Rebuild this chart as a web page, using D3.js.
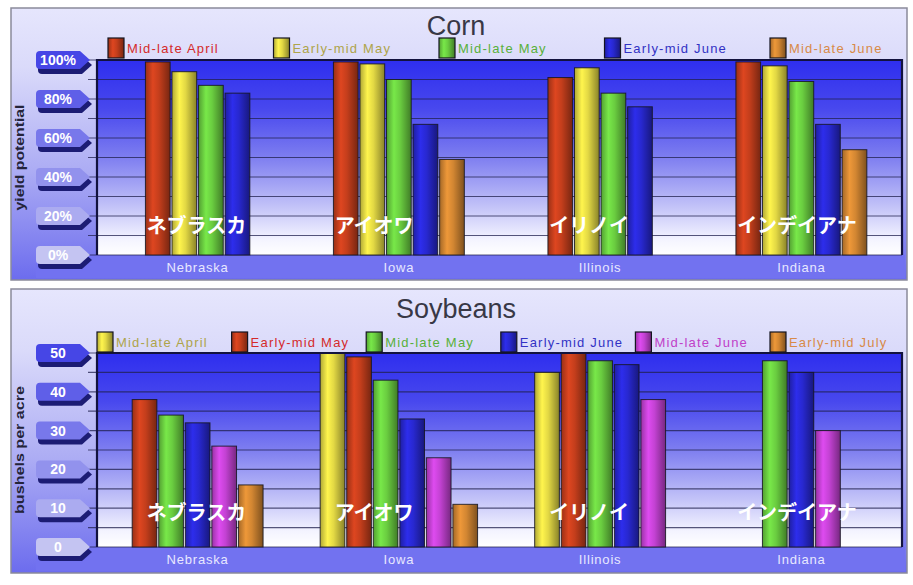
<!DOCTYPE html>
<html><head><meta charset="utf-8">
<script src="https://cdn.jsdelivr.net/npm/d3@7"></script>
<style>
body{margin:0;background:#ffffff;}
svg{display:block;font-family:"Liberation Sans",Arial,sans-serif;}
</style>
</head><body>
<svg id="chart" width="913" height="585"></svg>
<script>
// ---------- DATA ----------
const categories = ["Nebraska", "Iowa", "Illinois", "Indiana"];
const categoryLabelsJa = ["ネブラスカ", "アイオワ", "イリノイ", "インデイアナ"];

// Corn: yield potential (%)
const cornSeries = ["Mid-late April", "Early-mid May", "Mid-late May", "Early-mid June", "Mid-late June"];
const cornMidLateApril = [99, 99, 91, 99];
const cornEarlyMidMay  = [94, 98, 96, 97];
const cornMidLateMay   = [87, 90, 83, 89];
const cornEarlyMidJune = [83, 67, 76, 67];
const cornMidLateJune  = [null, 49, null, 54];
const cornTicks = [0, 20, 40, 60, 80, 100];

// Soybeans: bushels per acre
const soySeries = ["Mid-late April", "Early-mid May", "Mid-late May", "Early-mid June", "Mid-late June", "Early-mid July"];
const soyMidLateApril = [null, 50, 45, null];
const soyEarlyMidMay  = [38, 49, 50, null];
const soyMidLateMay   = [34, 43, 48, 48];
const soyEarlyMidJune = [32, 33, 47, 45];
const soyMidLateJune  = [26, 23, 38, 30];
const soyEarlyMidJuly = [16, 11, null, null];
const soyTicks = [0, 10, 20, 30, 40, 50];

// ---------- STYLE ----------
const palette = {
  red:     {base: "#c43e1c", text: "#d42a2a"},
  yellow:  {base: "#e2d844", text: "#aea44a"},
  green:   {base: "#6acd40", text: "#58b03a"},
  blue:    {base: "#2828d0", text: "#3232c4"},
  orange:  {base: "#d28632", text: "#d88a48"},
  magenta: {base: "#c442d4", text: "#c040c8"}
};
const cornColors = ["red", "yellow", "green", "blue", "orange"];
const soyColors  = ["yellow", "red", "green", "blue", "magenta", "orange"];

const svg = d3.select("#chart");
const defs = svg.append("defs");

// bar gradients (cylinder look)
Object.entries(palette).forEach(([k, p]) => {
  const c = d3.color(p.base);
  const g = defs.append("linearGradient").attr("id", "bar-" + k)
    .attr("x1", "0%").attr("x2", "100%").attr("y1", "0%").attr("y2", "0%");
  g.append("stop").attr("offset", "0%").attr("stop-color", c.darker(0.7));
  g.append("stop").attr("offset", "30%").attr("stop-color", c.brighter(0.35));
  g.append("stop").attr("offset", "55%").attr("stop-color", c);
  g.append("stop").attr("offset", "100%").attr("stop-color", c.darker(1.4));
});

// panel gradient
const pg = defs.append("linearGradient").attr("id", "panelGrad")
  .attr("x1", 0).attr("x2", 0).attr("y1", 0).attr("y2", 1);
[["0%", "#e6e6fd"], ["22%", "#dadafa"], ["60%", "#acacf4"], ["85%", "#8484f0"], ["100%", "#6c6cee"]]
  .forEach(([o, c]) => pg.append("stop").attr("offset", o).attr("stop-color", c));

// plot gradient
const plg = defs.append("linearGradient").attr("id", "plotGrad")
  .attr("x1", 0).attr("x2", 0).attr("y1", 0).attr("y2", 1);
[["0%", "#2e2eee"], ["25%", "#4848ee"], ["50%", "#7e7ef0"], ["75%", "#c2c2f8"], ["92%", "#f4f4ff"], ["100%", "#ffffff"]]
  .forEach(([o, c]) => plg.append("stop").attr("offset", o).attr("stop-color", c));

const pitch = 26.5;

function drawPanel(cfg) {
  const g = svg.append("g");
  const P = cfg.panel, A = cfg.plot;

  g.append("rect").attr("x", P.x).attr("y", P.y).attr("width", P.w).attr("height", P.h)
    .attr("fill", "url(#panelGrad)").attr("stroke", "#8a8a9a").attr("stroke-width", 1.5);

  // floor band
  g.append("rect").attr("x", 36).attr("y", A.y1).attr("width", P.x + P.w - 2 - 36)
    .attr("height", P.y + P.h - 2 - A.y1).attr("fill", "#7272f0");

  // title
  g.append("text").attr("x", 456).attr("y", cfg.titleY).attr("text-anchor", "middle")
    .attr("font-size", 27).attr("fill", "#383846").text(cfg.title);

  const x = d3.scaleBand().domain(categories).range([A.x0, A.x1]);
  const y = d3.scaleLinear().domain(cfg.domain).range([A.y1, A.y0]);

  // plot background
  g.append("rect").attr("x", A.x0).attr("y", A.y0).attr("width", A.x1 - A.x0).attr("height", A.y1 - A.y0)
    .attr("fill", "url(#plotGrad)");

  // grid lines
  const gridVals = d3.range(cfg.domain[0], cfg.domain[1] + 0.001, cfg.gridStep);
  g.selectAll(".grid").data(gridVals).join("line")
    .attr("x1", 88).attr("x2", A.x1).attr("y1", d => y(d)).attr("y2", d => y(d))
    .attr("stroke", "#20204e").attr("stroke-opacity", 0.75).attr("stroke-width", 1.2);

  // y tabs
  const tabColor = d3.scaleLinear().domain(cfg.domain).range(["#c4c4f2", "#4646e6"]);
  const tabPath = yy => `M40,${yy - 9} L80,${yy - 9} L90,${yy} L80,${yy + 9} L40,${yy + 9} Q36,${yy + 9} 36,${yy + 5} L36,${yy - 5} Q36,${yy - 9} 40,${yy - 9} Z`;
  const tabs = g.selectAll(".tab").data(cfg.ticks).join("g");
  tabs.append("path").attr("d", d => tabPath(y(d))).attr("transform", "translate(2,5)")
    .attr("fill", "#1c1c74");
  tabs.append("path").attr("d", d => tabPath(y(d))).attr("fill", d => tabColor(d));
  tabs.append("text").attr("x", 58).attr("y", d => y(d)).attr("dy", "0.36em")
    .attr("text-anchor", "middle").attr("font-size", 14).attr("font-weight", "bold")
    .attr("fill", "#ffffff").text(cfg.tickFormat);

  // y title
  g.append("text").attr("transform", `translate(24,${(A.y0 + A.y1) / 2}) rotate(-90)`)
    .attr("text-anchor", "middle").attr("font-size", 12).attr("font-weight", "bold")
    .attr("fill", "#24243a").attr("textLength", cfg.yTitleLen).attr("lengthAdjust", "spacingAndGlyphs")
    .text(cfg.yTitle);

  // bars
  const bars = [];
  categories.forEach((cat, i) => {
    const present = cfg.values.map((arr, s) => s).filter(s => cfg.values[s][i] != null);
    const c = x(cat) + x.bandwidth() / 2;
    const inner = d3.scaleBand().domain(present)
      .range([c - present.length * pitch / 2, c + present.length * pitch / 2]).paddingInner(0.07).paddingOuter(0.03);
    present.forEach(s => bars.push({s, v: cfg.values[s][i], x: inner(s), w: inner.bandwidth()}));
  });
  g.selectAll(".bar").data(bars).join("rect")
    .attr("x", d => d.x).attr("width", d => d.w)
    .attr("y", d => y(d.v)).attr("height", d => y(cfg.domain[0]) - y(d.v))
    .attr("fill", d => `url(#bar-${cfg.colors[d.s]})`)
    .attr("stroke", "#151520").attr("stroke-width", 1).attr("stroke-opacity", 0.85);

  // plot border
  g.append("path").attr("d", `M${A.x0},${A.y1} L${A.x0},${A.y0} L${A.x1},${A.y0} L${A.x1},${A.y1}`)
    .attr("fill", "none").attr("stroke", "#12123e").attr("stroke-width", 2.2);

  // category axis
  const ax = g.append("g").attr("transform", `translate(0,${A.y1})`)
    .call(d3.axisBottom(x).tickSize(0).tickPadding(8));
  ax.select(".domain").remove();
  ax.selectAll("text").attr("font-size", 13).attr("fill", "#e8e8ff")
    .attr("letter-spacing", "0.8px").attr("font-family", "'Liberation Sans',Arial,sans-serif");

  // Japanese overlay labels (aligned with start of corn bar groups)
  g.selectAll(".ja").data(categories).join("text")
    .attr("x", (d, i) => x(d) + x.bandwidth() / 2 - cornGroupSize[i] * pitch / 2 + 2)
    .attr("y", A.y1 - cfg.jaOffset).attr("dy", "0.36em")
    .attr("font-family", "'Noto Sans CJK JP',sans-serif").attr("font-weight", "bold")
    .attr("font-size", 20).attr("fill", "#ffffff")
    .text((d, i) => categoryLabelsJa[i]);

  // legend
  const lx = d3.scaleLinear().domain([0, cfg.series.length - 1]).range(cfg.legendRange);
  const leg = g.selectAll(".leg").data(cfg.series).join("g")
    .attr("transform", (d, i) => `translate(${lx(i)},${cfg.legendY})`);
  leg.append("rect").attr("x", 0).attr("y", -10).attr("width", 16).attr("height", 20)
    .attr("fill", (d, i) => `url(#bar-${cfg.colors[i]})`)
    .attr("stroke", "#151520").attr("stroke-width", 1.2);
  leg.append("text").attr("x", 19).attr("y", 0).attr("dy", "0.36em")
    .attr("font-size", 13).attr("letter-spacing", "1.2px")
    .attr("fill", (d, i) => palette[cfg.colors[i]].text).text(d => d);
}

const cornValues = [cornMidLateApril, cornEarlyMidMay, cornMidLateMay, cornEarlyMidJune, cornMidLateJune];
const soyValues = [soyMidLateApril, soyEarlyMidMay, soyMidLateMay, soyEarlyMidJune, soyMidLateJune, soyEarlyMidJuly];
const cornGroupSize = categories.map((c, i) => cornValues.filter(a => a[i] != null).length);

drawPanel({
  panel: {x: 11, y: 8, w: 896, h: 272},
  plot: {x0: 97, x1: 902, y0: 60, y1: 255},
  domain: [0, 100], gridStep: 10, ticks: cornTicks, tickFormat: d => d + "%",
  title: "Corn", titleY: 35, legendY: 48, legendRange: [108, 770],
  yTitle: "yield potential", yTitleLen: 106,
  series: cornSeries, values: cornValues, colors: cornColors, jaOffset: 29
});

drawPanel({
  panel: {x: 11, y: 289, w: 896, h: 284},
  plot: {x0: 97, x1: 902, y0: 353, y1: 547},
  domain: [0, 50], gridStep: 5, ticks: soyTicks, tickFormat: d => d,
  title: "Soybeans", titleY: 318, legendY: 342, legendRange: [97, 770],
  yTitle: "bushels per acre", yTitleLen: 128,
  series: soySeries, values: soyValues, colors: soyColors, jaOffset: 34
});
</script>
</body></html>
